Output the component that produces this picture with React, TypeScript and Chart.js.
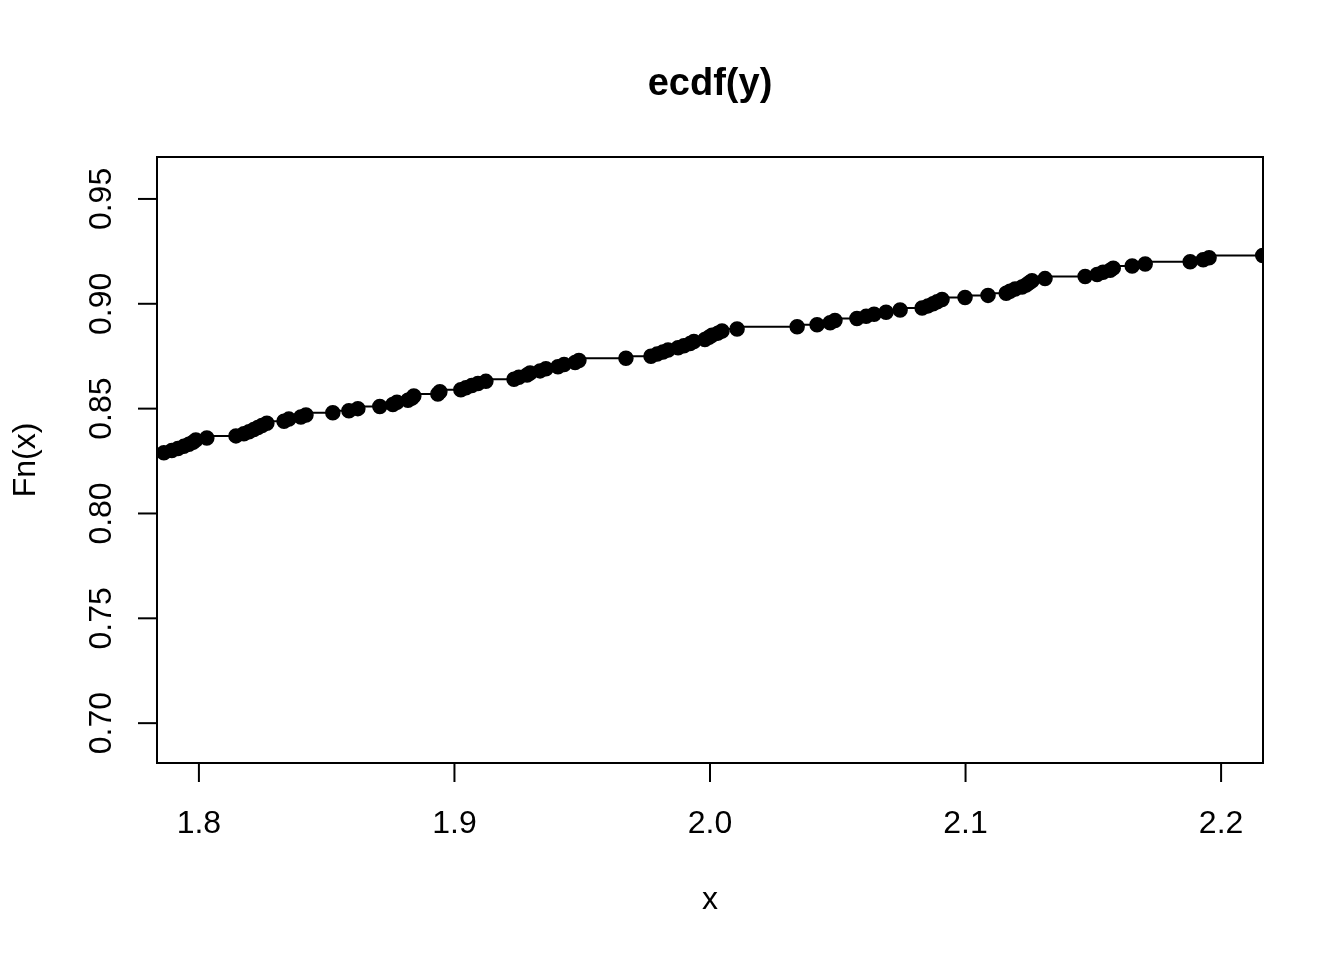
import React, { useEffect, useRef } from "react";
import { Chart, registerables } from "chart.js";

Chart.register(...registerables);

const TITLE = "ecdf(y)";
const X_TITLE = "x";
const Y_TITLE = "Fn(x)";

const X_TICKS = [1.8, 1.9, 2.0, 2.1, 2.2];
const Y_TICKS = [0.7, 0.75, 0.8, 0.85, 0.9, 0.95];

const X_MIN = 1.7836;
const X_MAX = 2.2164;
const Y_MIN = 0.681;
const Y_MAX = 0.97;

const X_VALUES = [
  1.78,
  1.7863, 1.7894, 1.7918, 1.7941, 1.7961, 1.7977, 1.7988, 1.8031,
  1.8145, 1.8176, 1.8196, 1.8215, 1.8231, 1.8247, 1.8266,
  1.8333, 1.8352, 1.8399, 1.8419, 1.8524, 1.8587, 1.8622,
  1.8708, 1.8759, 1.8775, 1.8818, 1.8834, 1.8841, 1.8935, 1.8943,
  1.9025, 1.9045, 1.9068, 1.9092, 1.9123,
  1.9233, 1.9252, 1.9284, 1.9296, 1.9335, 1.9358, 1.9405, 1.9429, 1.9472, 1.9487,
  1.9671,
  1.9769, 1.9793, 1.9816, 1.9836, 1.9875, 1.9898, 1.9922, 1.9937, 1.998, 1.9996, 2.0008, 2.0031, 2.0047, 2.0106,
  2.0341, 2.0419, 2.047, 2.0489,
  2.0575, 2.0611, 2.0642, 2.0689, 2.0744,
  2.083, 2.0853, 2.0873, 2.0889, 2.0908,
  2.0998, 2.1088, 2.1159, 2.1174, 2.1194, 2.1221, 2.1237, 2.1249, 2.126, 2.1311,
  2.1468, 2.1515, 2.1538, 2.1566, 2.1578,
  2.1652, 2.1703, 2.1879, 2.193, 2.1953, 2.2163,
];

const F_VALUES = [
  0.828,
  0.829, 0.83, 0.831, 0.832, 0.833, 0.834, 0.835, 0.836,
  0.837, 0.838, 0.839, 0.84, 0.841, 0.842, 0.843,
  0.844, 0.845, 0.846, 0.847, 0.848, 0.849, 0.85,
  0.851, 0.852, 0.853, 0.854, 0.855, 0.856, 0.857, 0.858,
  0.859, 0.86, 0.861, 0.862, 0.863,
  0.864, 0.865, 0.866, 0.867, 0.868, 0.869, 0.87, 0.871, 0.872, 0.873,
  0.874,
  0.875, 0.876, 0.877, 0.878, 0.879, 0.88, 0.881, 0.882, 0.883, 0.884, 0.885, 0.886, 0.887, 0.888,
  0.889, 0.89, 0.891, 0.892,
  0.893, 0.894, 0.895, 0.896, 0.897,
  0.898, 0.899, 0.9, 0.901, 0.902,
  0.903, 0.904, 0.905, 0.906, 0.907, 0.908, 0.909, 0.91, 0.911, 0.912,
  0.913, 0.914, 0.915, 0.916, 0.917,
  0.918, 0.919, 0.92, 0.921, 0.922, 0.923,
];

const FONT = '"Liberation Sans", Arial, Helvetica, sans-serif';

const axesPlugin = {
  id: "rAxes",
  beforeDatasetsDraw(chart: any) {
    const { ctx, chartArea: a, scales } = chart;
    const xs = scales.x;
    const ys = scales.y;
    ctx.save();
    ctx.strokeStyle = "#000";
    ctx.lineWidth = 2;
    ctx.strokeRect(a.left, a.top, a.right - a.left, a.bottom - a.top);
    ctx.fillStyle = "#000";
    ctx.font = `32px ${FONT}`;
    ctx.textAlign = "center";
    ctx.textBaseline = "alphabetic";
    for (const v of X_TICKS) {
      const px = xs.getPixelForValue(v);
      ctx.beginPath();
      ctx.moveTo(px, a.bottom);
      ctx.lineTo(px, a.bottom + 19);
      ctx.stroke();
      ctx.fillText(v.toFixed(1), px, a.bottom + 70);
    }
    for (const v of Y_TICKS) {
      const py = ys.getPixelForValue(v);
      ctx.beginPath();
      ctx.moveTo(a.left - 19, py);
      ctx.lineTo(a.left, py);
      ctx.stroke();
      ctx.save();
      ctx.translate(a.left - 46, py);
      ctx.rotate(-Math.PI / 2);
      ctx.fillText(v.toFixed(2), 0, 0);
      ctx.restore();
    }
    const cx = (a.left + a.right) / 2;
    const cy = (a.top + a.bottom) / 2;
    ctx.fillText(X_TITLE, cx, a.bottom + 146);
    ctx.save();
    ctx.translate(a.left - 122, cy);
    ctx.rotate(-Math.PI / 2);
    ctx.fillText(Y_TITLE, 0, 0);
    ctx.restore();
    ctx.font = `bold 38px ${FONT}`;
    ctx.fillText(TITLE, cx, 95);
    ctx.restore();
  },
};

export default function App() {
  const ref = useRef<HTMLCanvasElement | null>(null);
  useEffect(() => {
    document.body.style.margin = "0";
    const canvas = ref.current;
    if (!canvas) return;
    const data = X_VALUES.map((x, i) => ({ x, y: F_VALUES[i] }));
    const chart = new Chart(canvas, {
      type: "scatter",
      data: {
        datasets: [
          {
            data,
            showLine: true,
            stepped: "after",
            borderColor: "#000",
            borderWidth: 2,
            backgroundColor: "#000",
            pointBackgroundColor: "#000",
            pointBorderColor: "#000",
            pointBorderWidth: 1.5,
            pointRadius: 7,
            pointHoverRadius: 7,
          } as any,
        ],
      },
      options: {
        responsive: false,
        animation: false,
        devicePixelRatio: 1,
        events: [],
        layout: { padding: { top: 157, right: 81, left: 0, bottom: 0 } },
        plugins: {
          legend: { display: false },
          title: { display: false },
          tooltip: { enabled: false },
        },
        scales: {
          x: {
            type: "linear",
            min: X_MIN,
            max: X_MAX,
            ticks: { display: false },
            grid: { display: false },
            border: { display: false },
            afterFit: (s: any) => {
              s.height = 197;
            },
          },
          y: {
            type: "linear",
            min: Y_MIN,
            max: Y_MAX,
            ticks: { display: false },
            grid: { display: false },
            border: { display: false },
            afterFit: (s: any) => {
              s.width = 157;
            },
          },
        },
      },
      plugins: [axesPlugin],
    });
    return () => chart.destroy();
  }, []);
  return (
    <canvas
      ref={ref}
      width={1344}
      height={960}
      style={{ position: "absolute", left: 0, top: 0, width: 1344, height: 960 }}
    />
  );
}
